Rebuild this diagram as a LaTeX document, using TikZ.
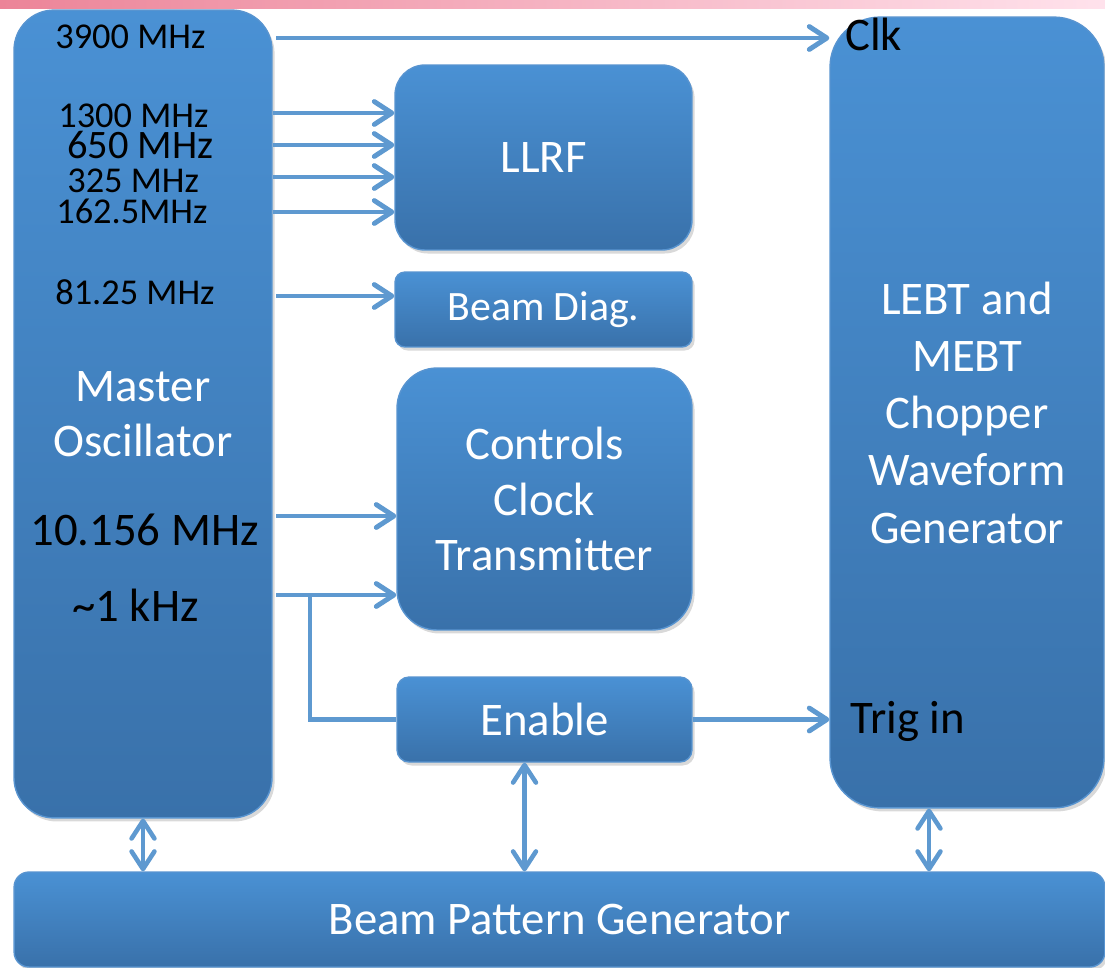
\documentclass[tikz,border=0pt]{standalone}
\usepackage{fontspec}
\setmainfont{Carlito}
\usetikzlibrary{arrows.meta,shadows}

\definecolor{boxtop}{RGB}{74,145,212}
\definecolor{boxbot}{RGB}{57,113,170}
\definecolor{boxedge}{RGB}{88,148,208}
\definecolor{wirec}{RGB}{94,153,208}
\definecolor{pinkL}{RGB}{236,132,152}
\definecolor{pinkR}{RGB}{255,226,236}

\tikzset{
    box/.style={draw=boxedge,line width=0.8pt,top color=boxtop,bottom color=boxbot,
        text=white,align=center,inner sep=0pt,font=\fontsize{26.6}{31.5}\selectfont,
        drop shadow={opacity=.3,shadow xshift=1.5pt,shadow yshift=-2pt}},
    freq/.style={anchor=base west,inner sep=0pt,font=\fontsize{20.7}{24}\selectfont},
    big/.style={anchor=base west,inner sep=0pt,font=\fontsize{26.6}{31.5}\selectfont},
    barb/.tip={Straight Barb[length=10pt,width=13pt,line cap=round,line join=round]},
    link/.style={draw=wirec,line width=2.8pt},
    arr/.style={link,-barb},
    dbl/.style={draw=wirec,line width=2.6pt,barb-barb}
}

\begin{document}
\begin{tikzpicture}[x=0.02cm,y=-0.02cm]
        \useasboundingbox (0,0) rectangle (1105,967);
        \shade[left color=pinkL,right color=pinkR] (0,0) rectangle (1105,8);

        % blocks
        \node[box,minimum width=5.16cm,minimum height=16.16cm,rounded corners=0.8cm]
            (mo) at (143,414) {Master\\Oscillator};
        \node[box,minimum width=5.94cm,minimum height=3.7cm,rounded corners=0.6cm]
            (llrf) at (543.5,157.5) {LLRF};
        \node[box,minimum width=5.94cm,minimum height=1.5cm,rounded corners=0.2cm,
            font=\fontsize{23.8}{28}\selectfont] (bd) at (543.5,309.5) {Beam Diag.};
        \node[box,minimum width=5.9cm,minimum height=5.24cm,rounded corners=0.8cm,
            font=\fontsize{26.6}{31.7}\selectfont] (cct) at (544.5,499) {Controls\\Clock\\Transmitter};
        \node[box,minimum width=5.9cm,minimum height=1.7cm,rounded corners=0.24cm]
            (en) at (544.5,719.5) {Enable};
        \node[box,minimum width=5.48cm,minimum height=15.82cm,rounded corners=1cm,
            font=\fontsize{26.6}{32.6}\selectfont] (lebt) at (967,412.5)
            {LEBT and\\MEBT\\Chopper\\Waveform\\Generator};
        \node[box,minimum width=21.82cm,minimum height=1.9cm,rounded corners=0.3cm]
            (bpg) at (559.5,919.5) {Beam Pattern Generator};

        % outputs of the oscillator
        \node[freq] (f3900) at (55,48) {3900 MHz};
        \node[freq] (f1300) at (58,127) {1300 MHz};
        \node[freq,font=\fontsize{23}{27}\selectfont] (f650) at (67,158) {650 MHz};
        \node[freq] (f325) at (67,192) {325 MHz};
        \node[freq] (f162) at (56,223) {162.5MHz};
        \node[freq] (f81) at (55,304) {81.25 MHz};
        \node[big] (f10) at (30,545) {10.156 MHz};
        \node[big] (f1k) at (72,621) {\textasciitilde1 kHz};
        \node[big] (clk) at (845,50) {Clk};
        \node[big] (trig) at (850,733) {Trig in};

        \coordinate (o3900) at (276,38);
        \draw[arr] (o3900) -- (o3900 -| lebt.west);

        \foreach \n/\y in {a/113, b/145, c/177, d/212}{
            \coordinate (rf\n) at (mo.east |- 0,\y);
            \draw[arr] (rf\n) -- (rf\n -| llrf.west);
        }

        \coordinate (o81) at (276,296);
        \draw[arr] (o81) -- (o81 -| bd.west);

        \coordinate (o10) at (276,516);
        \draw[arr] (o10) -- (o10 -| cct.west);

        % 1 kHz feeds the enable too
        \coordinate (o1k) at (276,595);
        \coordinate (tap) at (310,595);
        \draw[arr] (o1k) -- (o1k -| cct.west);
        \draw[link] (tap) |- (en.west);
        \draw[arr] (en.east) -- (en.east -| lebt.west);

        % links to the pattern generator
        \draw[dbl] (mo.south) -- (mo.south |- bpg.north);
        \draw[dbl] ([xshift=-0.4cm]en.south) -- ([xshift=-0.4cm]en.south |- bpg.north);
        \draw[dbl] ([xshift=-0.76cm]lebt.south) -- ([xshift=-0.76cm]lebt.south |- bpg.north);
    \end{tikzpicture}
\end{document}
